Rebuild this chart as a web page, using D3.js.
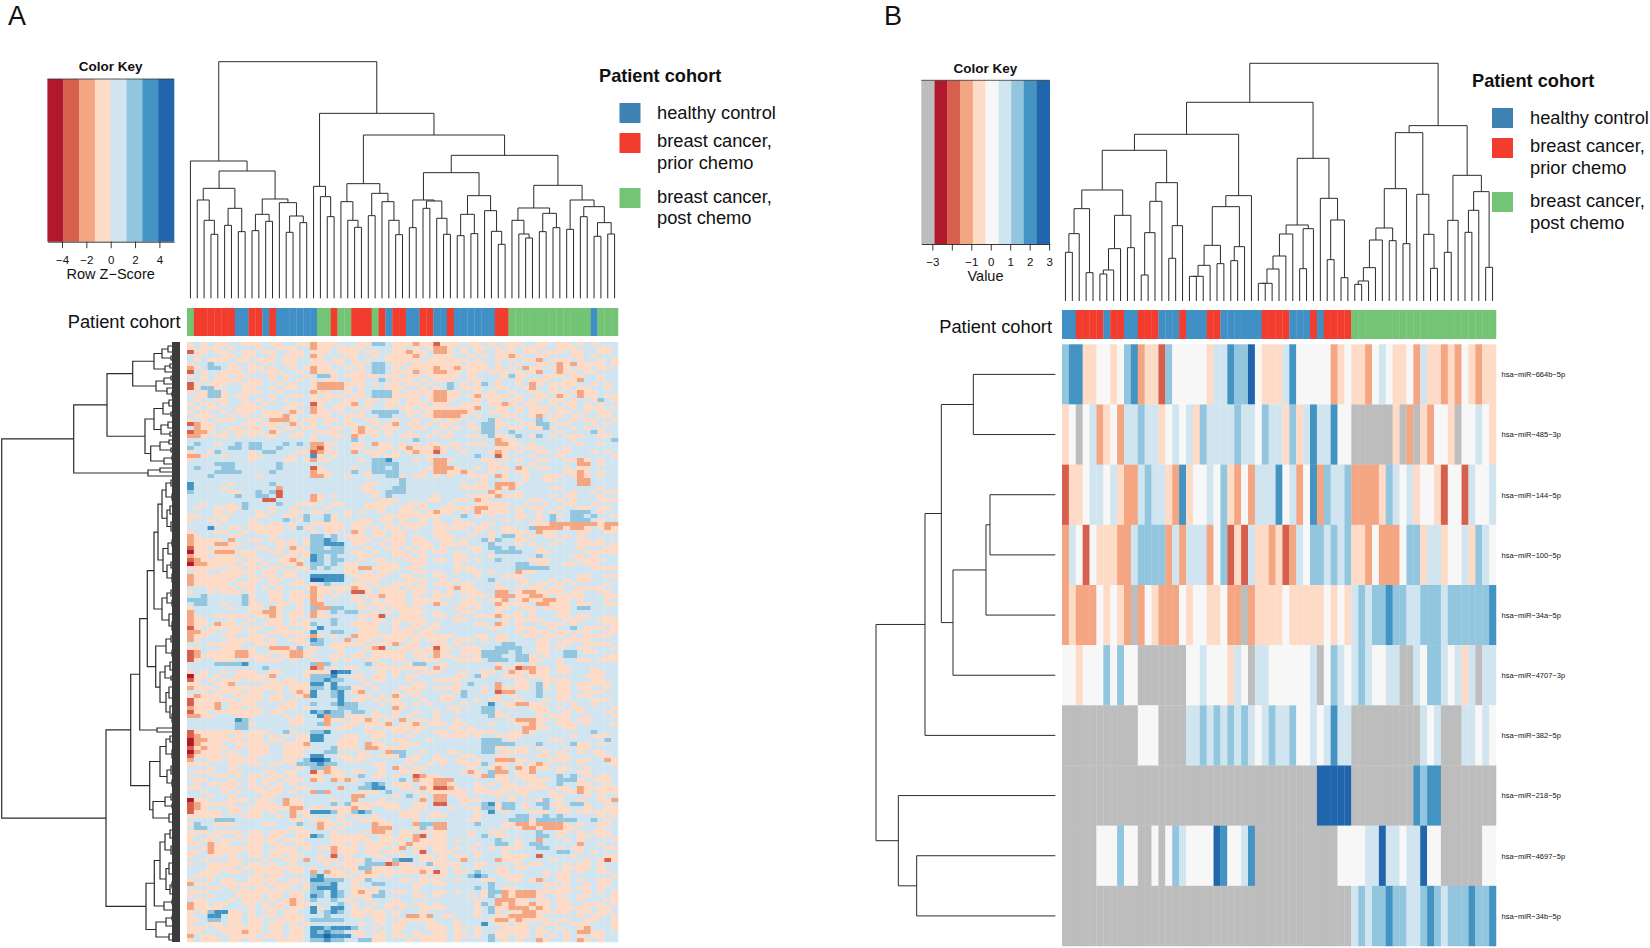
<!DOCTYPE html>
<html><head><meta charset="utf-8">
<script src="https://cdnjs.cloudflare.com/ajax/libs/d3/7.8.5/d3.min.js"></script>
<style>html,body{margin:0;padding:0;background:#fff}svg{display:block}text{font-family:"Liberation Sans",Arial,sans-serif;fill:#111}</style>
</head><body><svg id="c" width="1650" height="948"></svg>
<script>
// ---------- colour levels ----------
const levelA = ["1","2","3","4","5","6","7","8"];
const paletteA = ["#b2182b","#d6604d","#f4a582","#fddbc7","#d1e5f0","#92c5de","#4393c3","#2166ac"];
const levelB = ["G","1","2","3","4","5","6","7","8","9"];
const paletteB = ["#bdbdbd","#b2182b","#d6604d","#f4a582","#fddbc7","#f7f7f7","#d1e5f0","#92c5de","#4393c3","#2166ac"];
const cohortKeys = ["B","R","G"];
const cohortColors = ["#4190c5","#f23c2e","#74c476"];
const cohortSwatch = ["#3d82b3","#f23c2e","#74c476"];
const legendLabels = [["healthy control"],["breast cancer,","prior chemo"],["breast cancer,","post chemo"]];
// ---------- patient cohort bars ----------
const cohortA = "G RRRRRR BB RR B R BBBBBB GG R GG RRR G R B RR BB RR BB R BBBBBB RR GGGGGGGGGGGG B GGG";
const cohortB = "BB RRRR B RR BB RRR BBB R BBB RR BBBBBB RRRR BBB R B RRRR GGGGGGGGGGGGGGGGGGGGG";
// ---------- colour keys ----------
const keyBreaksA = [-5.2,-3.9,-2.6,-1.3,0,1.3,2.6,3.9,5.2];
const keyTicksA = [-4,-2,0,2,4];
const keyBreaksB = [-3.57,-2.89,-2.24,-1.57,-0.92,-0.27,0.4,1.05,1.7,2.35,3.03];
const keyTicksB = [-3,-2,-1,0,1,2,3];
const keyHiddenB = [-2];
// ---------- panel B matrix (one string per miRNA, one code per sample) ----------
const rowNamesB = ["hsa\u2212miR\u2212664b\u22125p","hsa\u2212miR\u2212485\u22123p","hsa\u2212miR\u2212144\u22125p","hsa\u2212miR\u2212100\u22125p","hsa\u2212miR\u221234a\u22125p","hsa\u2212miR\u22124707\u22123p","hsa\u2212miR\u2212382\u22125p","hsa\u2212miR\u2212218\u22125p","hsa\u2212miR\u22124697\u22125p","hsa\u2212miR\u221234b\u22125p"];
const matrixB = [
"7 88 44 55 4 5 7 8 3 44 2 7 55555 4 66 8 77 9 5 444 6 8 55555 3 4 5 44 3 5 6 5 44 5 3 6 44 3 4 3 5 4 3 44",
"4 5 G 5 6 3 4 5 3 66 7 66 4 5 6 5 6 4 7 6666 7 66 5 7 66 4 7 4 6 8 66 8 55 GGGGGG 4 G 3 G 4 3 55 4 G 55 6 5 4",
"2 44 5 66 5 6 4 33 6 7 66 4 3 8 4 55 6 5 7 4 3 5 3 666 8 5 6 3 5 8 3 7 66 7 3333 4 7 6 5 6 4 55 4 2 55 2 6 55 6",
"3 6 5 2 5 44 4 33 6 7777 3 6 3 666 3 5 7 2 4 2 6 44 3 4 2 3 6 5 77 6 7 6 7 44 3 5 333 5 77 4 66 4 55 6 4 7 6 5",
"3 4 333 5 4 5 4 3 G 3 5 4 333 5 4 55 44 5 33 G 3 4444 5 44444 5 4 5 4 6 7 6 77 8 77 66 777 6 777777 8",
"55 4 555 7 5 7 55 GGGGGGG 55 6 555 4 6 5 G 66 555555 6 G 5 7 6 5 6 7 6 55 66 GG 6 5 77 6 5 6 4 6 G 66",
"GGGGGGGGGGG 555 GGGG 66 7 6 7 6 7 6 7 6 5 6 7 66 7 55 6 5 6 8 66 GGGGGGGGGG 6 5 6 GGG 66 5 6 5",
"GGGGGGGGGGGGGGGGGGGGGGGGGGGGGGGGGGGGG 99999 GGGGGGGGG 8 7 88 GGGGGGGG",
"GGGGG 555 7 55 GG 5 G 5 7 6 5555 9 8 55 6 8 GGGGGGGGGGGG 5555 66 9 66 5 66 9 55 GGGGGG 55",
"GGGGGGGGGGGGGGGGGGGGGGGGGGGGGGGGGGGGGGGGGG 6 7 6 77 8 77 66 7 8 7 6 777 8 77 8"
];
// ---------- panel A matrix (estimated by eye at reduced row resolution; 63 codes per row) ----------
const matrixA = [
"454544554 445445544 344455544 665444344 244454454 544455445 445454555",
"454445455 545544455 344544445 555445454 334545445 454544455 444555445",
"244544554 454455445 444544454 455443445 334545455 444544544 454455445",
"545554454 455454445 345554455 454444345 444554545 443455445 554454555",
"545444544 544454455 445445454 554444454 444445455 454544354 445455454",
"455655455 454554455 444545445 665445444 444454445 455455445 343444454",
"345665445 445455454 344554545 665454444 344344445 454534454 345445445",
"254554445 454445545 344455445 665444344 334454454 445454355 344544555",
"454544544 555454554 566454444 454454454 444454555 546445544 454455455",
"554544445 445454545 454455445 565444545 444554455 455454445 544355455",
"245444554 445545455 433334445 454454454 556545465 455453454 444554545",
"246645554 455454455 433334545 554445545 456544455 445543554 545445545",
"454664554 445545555 344554545 666454444 334455454 554554454 454344555",
"544664544 555455445 454445445 666444454 334454344 445455445 345344544",
"545544554 545454555 444554454 454454454 334555454 454454454 454554654",
"454454554 454555445 245544354 554454445 445544454 434544554 544545455",
"545445544 445554455 345445454 554544544 444444355 445454445 454544454",
"454554544 454445345 344545545 666654454 333334554 445454445 445545445",
"544455454 554443455 444554445 566554544 333345455 544554354 454455445",
"454544455 445333454 454454554 455455455 454455556 455455654 554544554",
"234455554 454445345 454554455 454354454 544554566 445544665 445554545",
"534455445 445454454 455445434 544455445 545454466 454454464 554545455",
"233454544 445345545 544455434 454554555 454555566 556555555 455556455",
"334544545 454455445 455445345 454544454 544554456 445654654 544455445",
"555555555 555555555 455555655 555555655 555555555 344555555 554555556",
"565545565 665556565 334455445 344545454 454454445 334454555 555455455",
"655555665 665565555 324555445 544543444 345455555 444544455 545555555",
"455465555 456655544 234455354 445454344 245545554 345455445 445554545",
"334554555 445555455 745455555 454455554 555555655 245554555 455555554",
"455555555 455554454 344555545 667555454 334555544 545455445 544345455",
"555566655 555565555 555555555 666655555 335555554 455554555 555335455",
"565556655 555565555 245555455 665655554 333455454 445345445 545445555",
"555566665 555655555 344555654 666655545 334434554 545445555 544345455",
"555655555 545555555 334554554 556645445 454554445 345545544 454345455",
"555555555 555555555 555555555 555565555 555555545 545545544 555335555",
"755555455 555655555 555555554 455565555 555545445 333455555 555335555",
"755554555 555535555 555555544 555665555 555544445 343555554 455555455",
"655555445 565625555 555555554 456665555 555555553 455455555 554554544",
"555555565 566525555 345455555 456555555 455554444 344455554 544555455",
"555555555 552255555 345555555 544455554 455445345 555554455 454555444",
"554555456 555565544 455445554 444554445 554555444 445545545 544554555",
"545544446 555455455 554555554 445544545 544444334 445454455 455445445",
"555545455 545455445 445554545 545544454 344545344 445455454 556665455",
"445544555 544554456 556454555 554444444 455565454 555445456 456656554",
"455454555 455556546 556455544 544545545 455455555 545455456 556665455",
"555545555 445445455 444445444 554544445 445444544 555554443 333333433",
"555755445 444445464 554445445 454454455 444445445 544556333 343345434",
"455544554 544445555 454455345 445445555 445555454 544445344 555445544",
"345555445 555455555 665654445 445445455 444554554 566454544 545455555",
"344445355 445445454 667655444 554445445 544545564 655445555 455445455",
"344433445 555544454 667775445 545445444 544445556 555454554 555444454",
"244544455 544545345 665665554 554454544 545554456 656555455 555455544",
"144433344 455445444 666665445 455445445 445455455 666655445 555544444",
"344544454 455554454 765655544 555444545 555445554 555555655 554454555",
"234444445 445544345 765665545 445554445 445445455 655554445 555444455",
"133444454 454554435 665654455 544455445 555455555 555665445 544544555",
"444445445 445445544 656554433 444454455 555444555 555666665 555554444",
"544554444 454454455 555554454 544555445 455454454 555344555 555555555",
"344444445 454454455 777775444 445544555 445555455 544455555 555445544",
"344444455 445445545 887775544 455554445 545455556 555445554 545445555",
"344444544 455455445 456555445 455444545 444544555 455545445 454555545",
"555444454 454545554 344444344 544454445 554344555 445454454 455444455",
"455454445 455445445 344545224 544445445 454544455 335433444 454455445",
"556555556 455445444 345455454 434445455 444554445 333443345 444455544",
"666555556 455445445 345555445 454445444 455544554 435434433 445455545",
"566554556 445544545 335555545 444445445 345544455 344445334 445445544",
"455555455 445345545 633665544 545444455 555445455 445544544 445665555",
"355555555 443345445 345656655 454544445 455544555 455454555 445555555",
"345544444 544345445 344555544 425544455 445455444 344454555 445445545",
"344555455 455445454 555655545 445444445 555445555 545444455 544455444",
"344534454 554445444 655655444 455455445 455555445 345455544 454555544",
"245444445 445544554 575555544 455454454 455555554 455444554 556544454",
"334455445 455444445 755665544 455444544 555555555 555454445 445445544",
"344554455 444554544 345455344 444444444 444555445 445544544 454544445",
"345555444 445455445 765553544 554445454 445444545 445555445 544445555",
"555444445 544455544 665444445 444354455 445455555 566555445 445544445",
"445554445 455333465 455445554 325544454 244544455 666655445 455445554",
"235444433 455444334 455545545 444445444 345544466 665655445 566544555",
"234444433 444554334 555445445 444445445 344545466 655664545 566555544",
"245544454 544445455 455454554 455445544 455444456 665664455 455445444",
"555566667 555555555 636555556 545554665 545555555 455454555 455555555",
"555555555 556555555 235454455 444444445 345555555 344233445 445554555",
"454554544 455445554 444877555 545455544 455545544 553443445 445554455",
"144545544 444355554 666755445 445454455 555445645 544454445 555544455",
"245454445 445454455 667665545 445554555 444455555 555445544 445554455",
"445544355 554444444 775755554 555555445 555456555 355445645 445444445",
"344454444 444445444 665766445 455544445 444455545 344445645 445445545",
"554544445 445545434 755675435 555454455 555465545 233555655 445544455",
"434445544 445445543 755675544 545345455 544565555 454555655 445445555",
"244444454 445445455 555575445 454455545 544555454 455455545 445554445",
"244435444 455554455 655676655 545445454 555545557 544334455 554554555",
"344435445 445544454 555566655 555345555 554455566 554554445 454455554",
"244544444 445445555 767665665 455455455 455455566 455555445 545455545",
"334455544 455554545 573664445 445454555 455555556 445555454 445545554",
"555555576 555555445 553445443 454535445 455455555 554333445 445445555",
"555555566 455555445 563554454 443544354 445445554 555443455 444545554",
"555555566 555555555 554544554 554444445 554454555 555533445 544555555",
"244444445 444556455 667555554 445445455 445444444 554434555 555556555",
"234444544 445454544 775554455 445554555 544445455 444455555 554554445",
"133444445 445445544 775544455 455445554 555555566 654555554 455555565",
"134445544 444554443 555544453 445544455 555555566 666555655 556445455",
"243444545 444554444 555644453 344445555 555555566 445445455 545445555",
"134445455 444554445 556655545 553665545 554455566 544445545 455454455",
"244444445 445554445 775544544 544465455 455544555 445555445 445555445",
"355445444 455554456 887554445 555554455 445445455 333445554 445445534",
"444555445 445445466 676655555 445554554 545544465 445454345 555455554",
"555455455 555555545 663455555 545345445 555554554 345343445 445545555",
"544455445 554454455 243445445 545544455 555543456 335443555 455445555",
"455544545 445445455 445445565 445455234 455555436 445444555 656545445",
"544555455 454454445 345343455 555565344 333555555 445544445 666454445",
"545444445 454545455 555555556 765444544 334555454 544554455 655445545",
"445554455 445445544 555535566 775544534 223455445 544444445 445344444",
"554554545 544445455 363555544 456555454 444445444 445445554 544345444",
"555455455 554455555 555555335 555456545 335445555 454545554 455545455",
"144555444 544553445 555455355 545555535 335544455 554555465 455455443",
"234444455 544453445 555656444 444455445 225545567 466545664 456645545",
"234555445 444444335 445444344 554455445 554554466 466545565 445545544",
"244445445 445455344 777644676 555544455 455555457 545554445 445444444",
"444445554 445545354 555545455 455544454 445555455 555665565 655555454",
"555566655 555555445 444545544 445555455 555554455 556664666 666556545",
"465544455 554455565 534454555 344555366 335555655 544334333 345455445",
"566555555 555555445 534545555 333555465 335555555 545433433 344555455",
"444544445 445444544 555455554 334544544 445554554 455555655 445454445",
"455445545 445445544 765444445 544544325 445554565 445555665 455445445",
"454454454 444454445 555444444 544445344 445455555 655455355 545455554",
"445344555 445445544 555445454 444543444 445555455 665456655 555355455",
"554344444 445544454 544344454 445435445 445454554 544455665 454455544",
"445344445 445444455 555344454 454455425 444555455 545555555 665454555",
"455445455 445445445 545254555 445545544 545445455 544445255 554555544",
"554555445 554554453 544454446 554677544 445535555 344455554 555545424",
"455444445 445455455 554544456 662344556 444455445 555454455 545445455",
"555444454 444444445 455454466 444544444 545455455 445445555 544445455",
"554445445 544445445 353445453 444444434 245445655 445555545 445455445",
"544455555 445445555 675444544 454555545 445556765 544455545 445555554",
"455454455 444455445 776665446 555544544 455455544 554454355 445455445",
"344554444 445444454 666755455 665555445 445555556 555555544 545545445",
"555445454 544544554 677755445 455555455 555555656 544555545 445445455",
"444555544 444445445 665765434 465445455 445455546 634333444 445545454",
"455455544 445445445 765765444 665555445 455554546 534333455 455445554",
"544555454 445454345 655654554 555455555 555555455 333445445 445455544",
"344544554 454544344 555565455 454445445 455555465 343443445 445544454",
"344445555 454445445 745775454 554545544 445555456 443334345 444445445",
"454677445 455454455 756765444 445455545 555555456 454433444 445445445",
"455775445 454454445 556555445 445453343 544555455 443333455 555454454",
"445665445 445544445 666665555 445544444 555455554 334344445 445544554",
"455445445 445445454 555555545 545445554 455455575 445445544 554445554",
"444544444 445445445 776777655 455445554 445445455 544445455 455435554",
"445554443 445445445 767665445 545455455 445455455 444445445 545334455",
"354455444 454445445 778777545 445445444 445445456 445445454 545454455",
"454445445 445544445 667665566 445554544 445455556 545455345 545345455"
];
// ---------- dendrograms: [merge height, child, child]; 0 is a leaf ----------
const colTreeA = [710,
 [412,0,[382,[330,[295,0,[234,0,[192,0,0]]],[270,[219,0,0],[200,0,0]]],[298,[252,[203,0,0],[231,0,0]],[287,0,[247,[198,0,0],[227,0,0]]]]]],
 [555,
  [336,0,[305,0,[245,0,0]]],
  [490,
   [344,[290,0,[234,0,[213,0,0]]],[315,[248,0,0],[290,0,[234,0,[191,0,0]]]]],
   [429,
    [377,[295,[212,0,0],[292,[270,0,0],[240,0,[192,0,0]]]],[308,[252,[188,0,0],[194,0,0]],[263,0,[201,0,[162,0,0]]]]],
    [339,[271,[234,0,[193,0,[181,0,0]]],[255,[200,0,0],[212,0,0]]],[295,[207,0,0],[275,[245,0,0],[227,[186,0,0],[193,0,0]]]]]
   ]
  ]
 ]];
const colTreeB = [713,
 [596,
  [500,
   [452,
    [333,[277,[202,[146,0,0],0],[85,0,0]],[257,[157,[93,[81,0,0],0],0],[160,0,0]]],
    [355,[299,[205,[78,0,0],0],0],[226,[128,0,0],0]]
   ],
   [316,[283,[167,[107,[74,[74,0,0],0],0],[112,0,0]],[163,[121,0,0],0]],0]
  ],
  [428,
   [228,[201,[135,[96,[53,[53,0,0],0],0],0],0],[217,[97,0,0],0]],
   [308,0,[243,[124,0,0],[70,0,0]]]
  ]
 ],
 [526,
  [505,
   [337,[219,[183,[100,[60,[50,0,0],0],0],0],[181,0,0]],[172,0,0]],
   [320,0,[200,0,[98,0,0]]]
  ],
  [377,[242,[146,0,0],0],[328,[272,[206,0,0],0],[101,0,0]]]
 ]];
const rowTreeB = [538,
 [391,[342,[246,0,0],[307,[208,[196,0,0],0],0]],0],
 [471,0,[416,0,0]]];
const rowTreeA = [178.3,
 [106.3,
  [73,
   [47.3,
    [26,[18,[12,[7,0,0],0],[9,0,0]],[15,[10,0,0],0]],
    [24,[16,[9,0,0],0],[13,0,[8,0,0]]]],
   [35,
    [26,[17,[11,0,[6,0,0]],[9,0,0]],[19,[12,[7,0,0],0],[10,0,0]]],
    [29.3,[20,[11,0,0],[9,0,0]],[16,[8,0,0],0]]]],
  [32,[20,0,0],0]],
 [74,
  [49.3,
   [40.3,
    [32.7,
     [26,
      [22,
       [18,[14,[9,0,[5,0,0]],[8,[5,0,0],0]],[13,[10,[6,0,0],[7,0,0]],[9,[5,0,0],[6,0,[4,0,0]]]]],
       [17,[12,[8,0,[4,0,0]],[7,0,0]],[13,[9,[6,0,0],0],[8,[5,0,0],[4,0,0]]]]],
      [18,[13,[9,[5,0,0],0],[8,0,[5,0,0]]],[11,[7,0,0],[8,[4,0,0],[5,0,0]]]]],
     [24.3,
      [14,[9,0,[5,0,0]],[8,[4,0,0],0]],
      [20,[15,[10,[6,0,0],[7,0,0]],[9,0,0]],[14,[11,[7,0,[4,0,0]],[6,0,0]],[10,[7,0,0],[8,[5,0,0],[4,0,0]]]]]]],
    [23,0,0]],
   [30.3,
    [20,[14,[10,0,[6,0,0]],[8,[5,0,0],[4,0,0]]],[13,[9,[6,0,0],[5,0,0]],[8,0,[4,0,0]]]],
    [27,[15,[9,[5,0,0],0],[8,0,0]],[11,[6,0,0],[7,0,0]]]]],
  [34,
   [25.7,
    [20,[15,[10,[7,0,0],[6,0,0]],[9,[5,0,0],[6,0,0]]],[14,[11,[7,0,[4,0,0]],[6,0,0]],[10,[8,[5,0,0],0],[7,0,0]]]],
    [16,[8,0,0],[6,0,0]]],
   [24,[14,[8,0,0],[6,0,0]],[11,[5,0,0],0]]]]];

// ---------- layout ----------
const svg = d3.select("#c");
const clean = s => s.replace(/\s+/g,"").split("");
const ink = "#2b2b2b";

function heat(rows, colorScale, xr, yr){
  const grid = rows.map(clean);
  const x = d3.scaleBand().domain(d3.range(63)).range(xr);
  const y = d3.scaleBand().domain(d3.range(grid.length)).range(yr);
  const g = svg.append("g");
  g.selectAll("g").data(grid).join("g").attr("transform",(d,i)=>`translate(0,${y(i)})`)
   .selectAll("rect").data(d=>d).join("rect")
   .attr("x",(d,i)=>x(i)).attr("width",x.bandwidth()+0.25).attr("height",y.bandwidth()+0.25)
   .attr("fill",d=>colorScale(d));
  return {x,y};
}
function cohortBar(str, x, top, h){
  const sc = d3.scaleOrdinal(cohortKeys,cohortColors);
  svg.append("g").selectAll("rect").data(clean(str)).join("rect")
    .attr("x",(d,i)=>x(i)).attr("y",top).attr("width",x.bandwidth()+0.25).attr("height",h).attr("fill",d=>sc(d));
}
function tree(data, leafPos, hScale, vertical, width){
  const root = d3.hierarchy(data, d=>Array.isArray(d)?d.slice(1):null);
  root.leaves().forEach((l,i)=>{l.p=leafPos(i)});
  root.eachAfter(n=>{ if(n.children) n.p=(n.children[0].p+n.children[1].p)/2; n.h=Array.isArray(n.data)?n.data[0]:0; });
  const path=[];
  root.each(n=>{ if(!n.children) return;
    const [a,b]=n.children, H=hScale(n.h);
    path.push(vertical
      ? `M${a.p},${hScale(a.h)}V${H}H${b.p}V${hScale(b.h)}`
      : `M${hScale(a.h)},${a.p}H${H}V${b.p}H${hScale(b.h)}`);
  });
  svg.append("path").attr("d",path.join("")).attr("fill","none").attr("stroke",ink).attr("stroke-width",width);
  return root;
}
function colorKey(o){
  const x = d3.scaleLinear().domain(d3.extent(o.breaks)).range(o.xr);
  svg.append("g").selectAll("rect").data(d3.pairs(o.breaks)).join("rect")
    .attr("x",d=>x(d[0])).attr("width",d=>x(d[1])-x(d[0])+0.3).attr("y",o.yr[0]).attr("height",o.yr[1]-o.yr[0])
    .attr("fill",(d,i)=>o.colors[i]);
  svg.append("line").attr("x1",o.xr[0]).attr("x2",o.xr[1]).attr("y1",o.yr[0]).attr("y2",o.yr[0]).attr("stroke","#333").attr("stroke-width",0.8);
  const ax = d3.axisBottom(x).tickValues(o.ticks).tickSize(6.5).tickPadding(7.5).tickSizeOuter(0)
     .tickFormat(d=>o.hidden.includes(d)?"":d3.format("d")(d).replace("-","\u2212"));
  const ag = svg.append("g").attr("transform",`translate(0,${o.yr[1]})`).call(ax);
  ag.selectAll("text").style("font-size","11.5px").style("font-family","Liberation Sans");
  ag.selectAll("line,path").attr("stroke","#222").attr("stroke-width",0.9);
  const cx=(o.xr[0]+o.xr[1])/2;
  svg.append("text").attr("x",cx).attr("y",o.titleY).attr("text-anchor","middle").attr("font-weight","bold").attr("font-size",13.5).text("Color Key");
  svg.append("text").attr("x",cx).attr("y",o.labelY).attr("text-anchor","middle").attr("font-size",14.5).text(o.label);
}
function legend(o){
  const sc = d3.scaleOrdinal(cohortKeys,cohortSwatch);
  svg.append("text").attr("x",o.titleX).attr("y",o.titleY).attr("font-weight","bold").attr("font-size",18.2).text("Patient cohort");
  cohortKeys.forEach((k,i)=>{
    svg.append("rect").attr("x",o.sx).attr("y",o.sy[i]).attr("width",21).attr("height",20).attr("fill",sc(k));
    legendLabels[i].forEach((t,j)=>{
      svg.append("text").attr("x",o.tx).attr("y",o.ty[i][j]).attr("font-size",18.3).text(t);
    });
  });
}
function letter(t,x,y){ svg.append("text").attr("x",x).attr("y",y).attr("font-size",27).attr("fill","#222").text(t); }

// Panel A
letter("A",8,24.6);
colorKey({breaks:keyBreaksA,ticks:keyTicksA,hidden:[],colors:paletteA,xr:[47.4,174],yr:[79,241.7],titleY:70.5,labelY:279,label:"Row Z\u2212Score"});
legend({titleX:599,titleY:82,sx:619.5,sy:[103,133,188],tx:657,ty:[[119],[147,169],[203,224]]});
const colorA = d3.scaleOrdinal(levelA,paletteA);
const hA = heat(matrixA,colorA,[187,618],[342,942]);
cohortBar(cohortA,hA.x,308,28);
svg.append("text").attr("x",180.5).attr("y",328).attr("text-anchor","end").attr("font-size",18.3).text("Patient cohort");
tree(colTreeA,i=>hA.x(i)+hA.x.bandwidth()/2,d3.scaleLinear().domain([0,710]).range([298.3,61.7]),true,1);
const rowHA = d3.scaleLinear().domain([0,178.3]).range([180,1.7]);
const rootA = tree(rowTreeA,i=>hA.y(i)+hA.y.bandwidth()/2,rowHA,false,1.2);
svg.append("g").selectAll("rect").data(rootA.leaves()).join("rect")
  .attr("x",rowHA(8)).attr("width",rowHA(0)-rowHA(8)).attr("y",d=>d.p-hA.y.bandwidth()/2).attr("height",hA.y.bandwidth())
  .attr("fill","#3c3c3c");

// Panel B
letter("B",884,24.6);
colorKey({breaks:keyBreaksB,ticks:keyTicksB,hidden:keyHiddenB,colors:paletteB,xr:[921.3,1049.7],yr:[80.3,244],titleY:72.5,labelY:281,label:"Value"});
legend({titleX:1472,titleY:87,sx:1492,sy:[108,138,192],tx:1530,ty:[[124],[152,174],[207,229]]});
const colorB = d3.scaleOrdinal(levelB,paletteB);
const hB = heat(matrixB,colorB,[1062,1496],[344.3,946]);
cohortBar(cohortB,hB.x,310,29);
svg.append("text").attr("x",1052).attr("y",333).attr("text-anchor","end").attr("font-size",18.3).text("Patient cohort");
tree(colTreeB,i=>hB.x(i)+hB.x.bandwidth()/2,d3.scaleLinear().domain([0,713]).range([301,63.3]),true,1);
tree(rowTreeB,i=>hB.y(i)+hB.y.bandwidth()/2,d3.scaleLinear().domain([0,538]).range([1055.3,876]),false,1);
svg.append("g").selectAll("text").data(rowNamesB).join("text")
  .attr("x",1501.5).attr("y",(d,i)=>hB.y(i)+hB.y.bandwidth()/2+2.8).attr("font-size",7.5).text(d=>d);
</script></body></html>
